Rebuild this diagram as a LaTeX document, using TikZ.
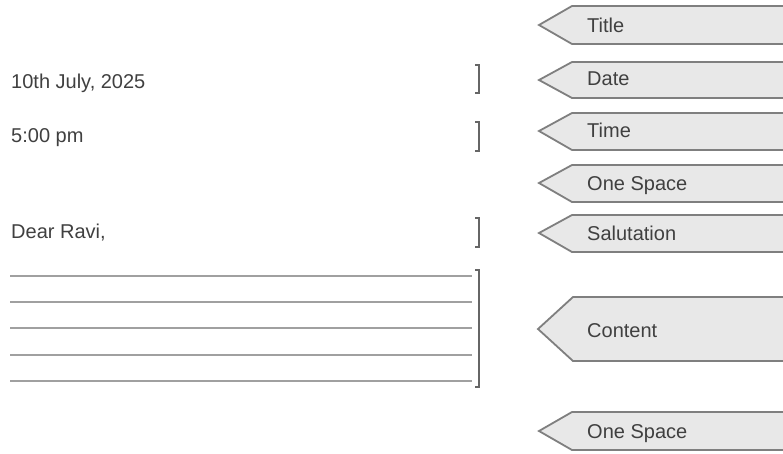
\documentclass[tikz,border=0pt]{standalone}
\usepackage{fontspec}
\setmainfont{Liberation Sans}
\usepackage{tikz}
\definecolor{tagfill}{HTML}{E8E8E8}
\definecolor{tagline}{HTML}{7F7F7F}
\definecolor{inktext}{HTML}{404040}
\definecolor{ruleline}{HTML}{A0A0A0}

\begin{document}
\begin{tikzpicture}[x=1pt,y=-1pt,
		tagbox/.style={draw=tagline,fill=tagfill,line width=1.8pt,line join=miter},
		taglabel/.style={anchor=base west,inner sep=0pt,text=inktext,font=\fontsize{20}{24}\selectfont},
		lettertext/.style={anchor=base west,inner sep=0pt,text=inktext,font=\fontsize{20}{24}\selectfont},
		bracketline/.style={draw=inktext!80,line width=1.5pt},
		writeline/.style={draw=ruleline,line width=2.5pt}]
				\clip (0,0) rectangle (783,453);
				\fill[white] (0,0) rectangle (783,453);
				% tags on the right
				\draw[tagbox] (539,25) -- (572,6) -- (790,6) -- (790,44) -- (572,44) -- cycle;
				\draw(587,32) node[taglabel] (tagtitle) {Title};
				\draw[tagbox] (539,80) -- (572,62) -- (790,62) -- (790,98) -- (572,98) -- cycle;
				\draw(587,85) node[taglabel] (tagdate) {Date};
				\draw[tagbox] (539,131) -- (572,113) -- (790,113) -- (790,150) -- (572,150) -- cycle;
				\draw(587,137) node[taglabel] (tagtime) {Time};
				\draw[tagbox] (539,183) -- (572,165) -- (790,165) -- (790,202) -- (572,202) -- cycle;
				\draw(587,190) node[taglabel] (tagspaceone) {One Space};
				\draw[tagbox] (539,233) -- (572,215) -- (790,215) -- (790,252) -- (572,252) -- cycle;
				\draw(587,240) node[taglabel] (tagsalute) {Salutation};
				\draw[tagbox] (538,329) -- (573,297) -- (790,297) -- (790,361) -- (573,361) -- cycle;
				\draw(587,337) node[taglabel] (tagcontent) {Content};
				\draw[tagbox] (539,431) -- (572,412) -- (790,412) -- (790,450) -- (572,450) -- cycle;
				\draw(587,438) node[taglabel] (tagspacetwo) {One Space};
				% the letter on the left
				\draw(11,88) node[lettertext] (date) {10th July, 2025};
				\draw(11,142) node[lettertext] (time) {5:00 pm};
				\draw(11,238) node[lettertext] (salute) {Dear Ravi,};
				\draw[bracketline] (475,65) -- (479,65) -- (479,93) -- (475,93);
				\draw[bracketline] (475,122) -- (479,122) -- (479,151) -- (475,151);
				\draw[bracketline] (475,218) -- (479,218) -- (479,247) -- (475,247);
				\draw[writeline] (10,276) -- (472,276);
				\draw[writeline] (10,302) -- (472,302);
				\draw[writeline] (10,328) -- (472,328);
				\draw[writeline] (10,355) -- (472,355);
				\draw[writeline] (10,381) -- (472,381);
				\draw[bracketline] (475,270) -- (479,270) -- (479,387) -- (475,387);
			\end{tikzpicture}
\end{document}
